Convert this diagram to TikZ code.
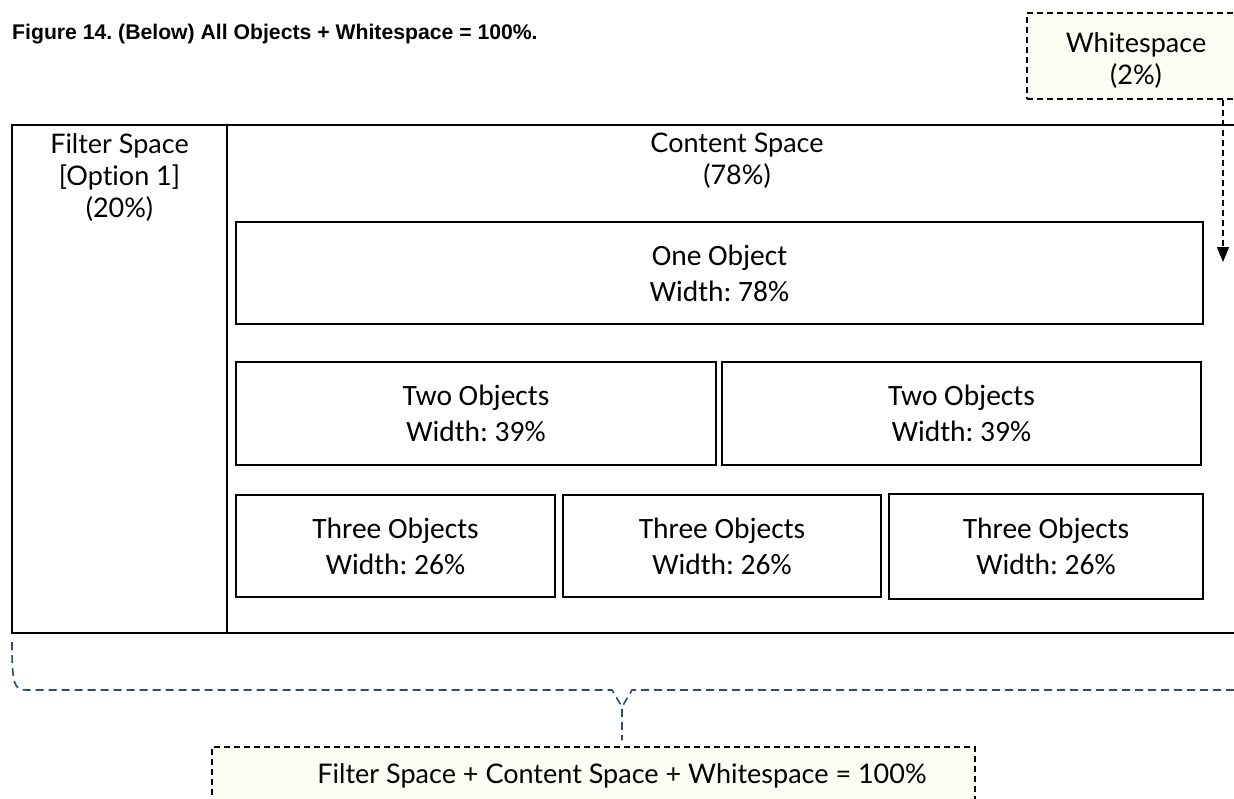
\documentclass[tikz,border=0pt]{standalone}
\usepackage{fontspec}
\setmainfont{Lato}[Ligatures=NoCommon]
\newfontfamily\calibfont{Carlito}
\newfontfamily\arialfont{Liberation Sans}
\usetikzlibrary{arrows.meta}
\definecolor{notefill}{HTML}{FDFDF3}
\definecolor{bracecol}{HTML}{2F4B6E}
\frenchspacing
\tikzset{
	panel/.style={draw,line width=2.4pt,inner sep=0pt},
	spacetext/.style={align=center,inner sep=0pt,font=\fontsize{27}{32}\selectfont},
	objbox/.style={draw,line width=1.8pt,align=center,inner sep=0pt,font=\calibfont\fontsize{29.5}{36}\selectfont},
	notebox/.style={draw,dash pattern=on 6pt off 4pt,line width=1.5pt,fill=notefill,inner sep=0pt},
	brace/.style={draw=bracecol,dash pattern=on 8pt off 5pt,line width=1.6pt}
}
\begin{document}
\begin{tikzpicture}[x=1pt,y=-1pt,>={Triangle[width=12pt,length=15pt]}]
	\useasboundingbox(0,0)rectangle(1234,798);
	\node[anchor=base west,inner sep=0pt,font=\arialfont\bfseries\fontsize{21.2}{25}\selectfont](title)at(12,39.5){Figure 14. (Below) All Objects + Whitespace = 100\%.};
	% the two spaces, cut off at the right
	\node[panel,minimum width=215,minimum height=508](filter)at(119.5,379){};
	\node[panel,minimum width=1020,minimum height=508](content)at(737,379){};
	\node[spacetext,anchor=north](filtertxt)at(119.5,133){Filter Space\\{[Option 1]}\\(20\%)};
	\node[spacetext,anchor=north](contenttxt)at(737,133){Content Space\\(78\%)};
	% objects
	\node[objbox,minimum width=967,minimum height=102](one)at(719.5,273){One Object\\Width: 78\%};
	\node[objbox,minimum width=480,minimum height=103](twoa)at(476,413.5){Two Objects\\Width: 39\%};
	\node[objbox,minimum width=479,minimum height=103](twob)at(961.5,413.5){Two Objects\\Width: 39\%};
	\node[objbox,minimum width=319,minimum height=102](threea)at(395.5,546){Three Objects\\Width: 26\%};
	\node[objbox,minimum width=318,minimum height=102](threeb)at(722,546){Three Objects\\Width: 26\%};
	\node[objbox,minimum width=314,minimum height=105](threec)at(1046,546.5){Three Objects\\Width: 26\%};
	% whitespace note
	\node[notebox,minimum width=220,minimum height=86](ws)at(1137,56){};
	\node[spacetext,anchor=north](wstxt)at(1136,32){Whitespace\\(2\%)};
	\coordinate(wsend)at(1223,262);
	\draw[->,dash pattern=on 6pt off 4pt,line width=1.5pt](ws.south-|wsend)--(wsend);
	% total note with brace
	\node[notebox,minimum width=763,minimum height=62](total)at(593.5,778){};
	\node[spacetext](totaltxt)at(622,776){Filter Space + Content Space + Whitespace = 100\%};
	\coordinate(bl)at(12,642);
	\coordinate(bm)at(622,707);
	\coordinate(br)at(1247,690);
	\draw[brace](bl)..controls(12,684)and(14,690)..(26,690)--(612,690)--(bm)--([yshift=6pt]total.north-|bm);
	\draw[brace](br)--(632,690)--(bm);
\end{tikzpicture}
\end{document}
